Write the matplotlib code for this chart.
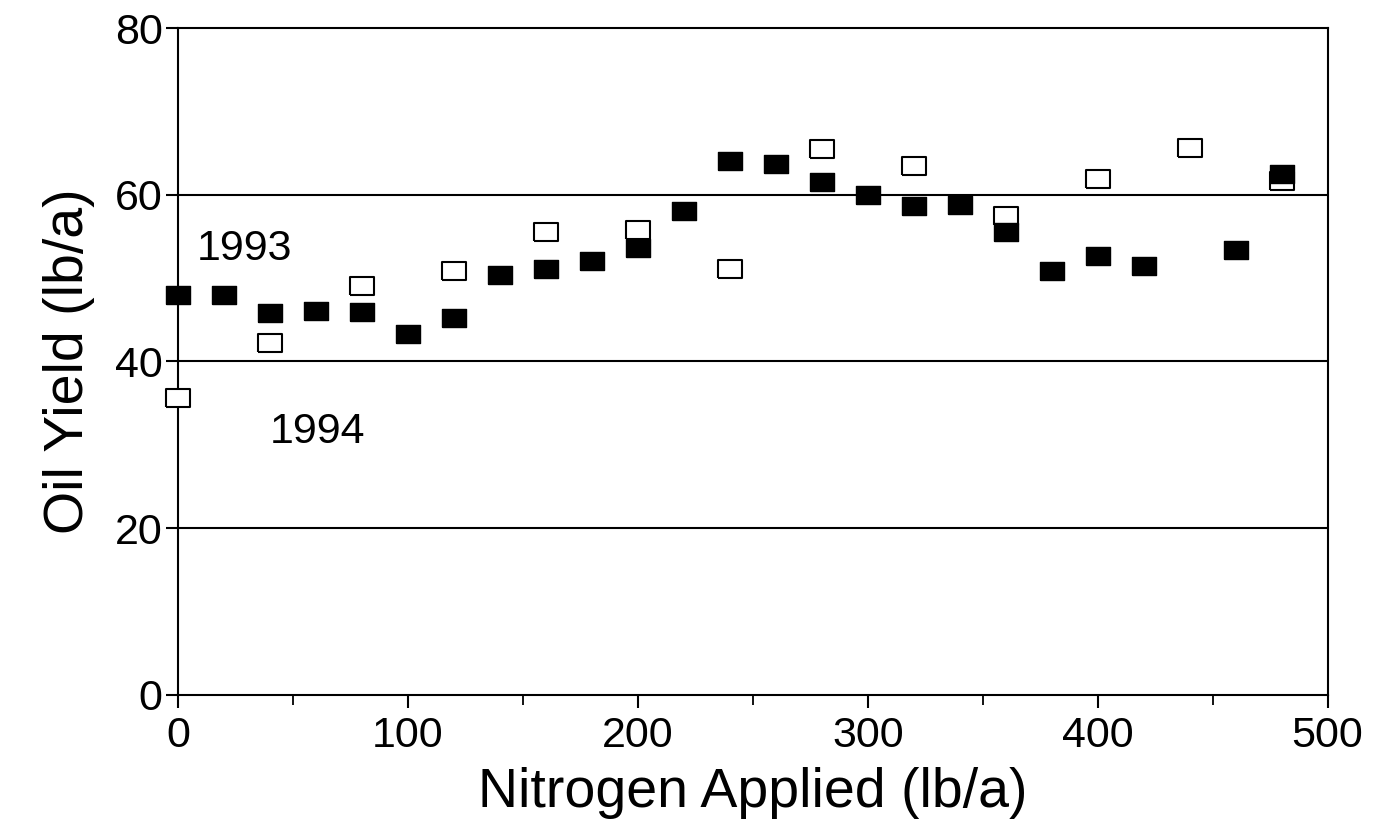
import matplotlib
matplotlib.use("Agg")
import matplotlib.pyplot as plt

# 1993 (filled squares)
n_1993 = [0, 20, 40, 60, 80, 100, 120, 140, 160, 180, 200, 220, 240, 260,
          280, 300, 320, 340, 360, 380, 400, 420, 460, 480]
y_1993 = [48.0, 48.0, 45.8, 46.0, 45.9, 43.3, 45.2, 50.4, 51.1, 52.0, 53.6,
          58.1, 64.0, 63.7, 61.5, 60.0, 58.7, 58.8, 55.5, 50.8, 52.6, 51.5,
          53.4, 62.5]
# 1994 (open squares)
n_1994 = [0, 40, 80, 120, 160, 200, 240, 280, 320, 360, 400, 440, 480]
y_1994 = [35.6, 42.2, 49.1, 50.8, 55.5, 55.8, 51.1, 65.5, 63.5, 57.4, 61.9,
          65.6, 61.7]

x_ticks = [0, 100, 200, 300, 400, 500]
y_ticks = [0, 20, 40, 60, 80]

plt.rcParams['font.family'] = ['Liberation Sans', 'DejaVu Sans']

fig = plt.figure(figsize=(13.8, 8.27), dpi=100)
ax = fig.add_axes([0.129, 0.160, 0.833, 0.806])

rect = [(-1.35, -1), (1.35, -1), (1.35, 1), (-1.35, 1), (-1.35, -1)]
ax.plot(n_1994, y_1994, linestyle='none', marker=rect, ms=17,
        mfc='white', mec='black', mew=1.5, zorder=3, clip_on=False)
ax.plot(n_1993, y_1993, linestyle='none', marker=rect, ms=17,
        mfc='black', mec='black', mew=1.0, zorder=4, clip_on=False)

for g in [20, 40, 60]:
    ax.axhline(g, color='black', lw=1.5, zorder=1)

ax.set_xlim(0, 500)
ax.set_ylim(0, 80)
ax.set_xticks(x_ticks)
ax.set_xticks([50, 150, 250, 350, 450], minor=True)
ax.set_yticks(y_ticks)
ax.tick_params(axis='both', which='major', direction='out', length=9,
               width=1.5, labelsize=31, colors='black')
ax.tick_params(axis='x', which='minor', direction='out', length=7, width=1.3)
ax.tick_params(axis='y', pad=2)
ax.tick_params(axis='x', pad=6)
for s in ax.spines.values():
    s.set_linewidth(1.5)

ax.set_xlabel('Nitrogen Applied (lb/a)', fontsize=40, labelpad=8)
ax.set_ylabel('Oil Yield (lb/a)', fontsize=40, labelpad=14)

ax.text(8, 53.5, '1993', fontsize=31, ha='left', va='center')
ax.text(40, 31.5, '1994', fontsize=31, ha='left', va='center')

fig.savefig('out.png', dpi=100)
